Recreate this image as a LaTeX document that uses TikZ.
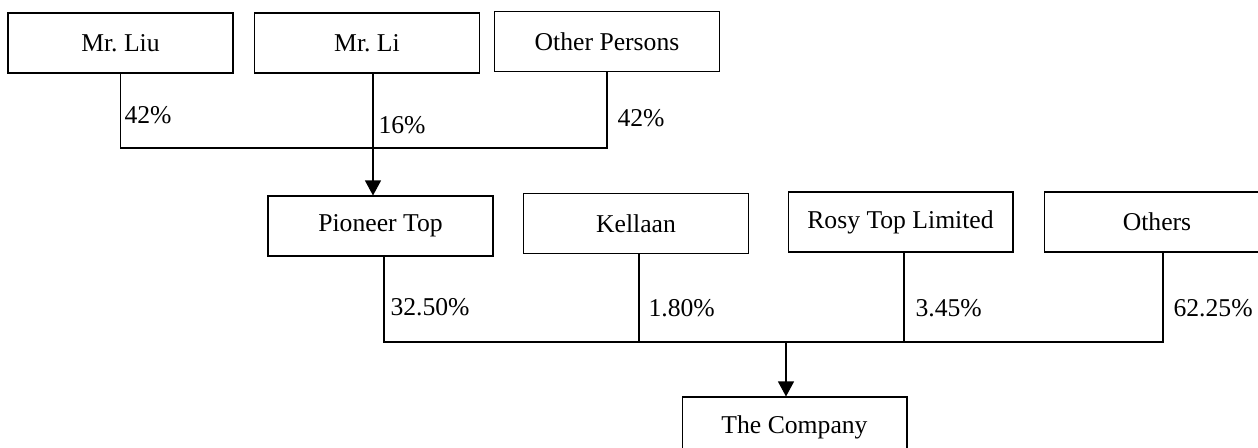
\documentclass[tikz,border=0pt]{standalone}
\usepackage{fontspec}
\setmainfont{Liberation Serif}
\usepackage{tikz}
\usetikzlibrary{arrows.meta,positioning,calc}
\frenchspacing

\begin{document}
\begin{tikzpicture}[x=0.02cm, y=-0.02cm, line width=0.6pt,
    box/.style={draw, rectangle, minimum width=4.5cm, minimum height=1.2cm, inner sep=0pt, font=\fontsize{14.6}{17}\selectfont},
    pct/.style={anchor=west, inner sep=0pt, font=\fontsize{14.6}{17}\selectfont},
    arr/.style={-{Triangle[length=0.3cm, width=0.32cm]}}]
    \clip (0,0) rectangle (1258,448);

    % shareholders of Pioneer Top
    \node[box] (liu) at (120.5,43) {Mr. Liu};
    \node[box] (li) at (367,43) {Mr. Li};
    \node[box] (other) at (607,41.5) {Other Persons};

    \node[box] (pioneer) at (380.5,226) {Pioneer Top};
    \node[box] (kellaan) at (636,223.5) {Kellaan};
    \node[box] (rosy) at (900.5,222) {Rosy Top Limited};
    \node[box] (others) at (1157,222) {Others};

    \node[box] (company) at (794.5,427) {The Company};

    \coordinate (topbus) at (373,148);
    \draw (liu.south) |- (topbus) -| (other.south);
    \draw (li.south -| topbus) -- (topbus);
    \draw[arr] (topbus) -- (topbus |- pioneer.north);

    \node[pct] (p1) at (124,115) {42\%};
    \node[pct] (p2) at (378,125) {16\%};
    \node[pct] (p3) at (617,118) {42\%};

    % shareholders of the Company
    \coordinate (d1) at (384,342);
    \coordinate (d2) at (639,342);
    \coordinate (d3) at (904,342);
    \coordinate (d4) at (1163,342);
    \coordinate (d0) at (786,342);
    \draw (pioneer.south -| d1) -- (d1) -- (d4) -- (others.south -| d4);
    \draw (kellaan.south -| d2) -- (d2);
    \draw (rosy.south -| d3) -- (d3);
    \draw[arr] (d0) -- (company.north -| d0);

    \node[pct] (q1) at (390,307) {32.50\%};
    \node[pct] (q2) at (648,308) {1.80\%};
    \node[pct] (q3) at (915,308) {3.45\%};
    \node[pct] (q4) at (1173,308) {62.25\%};
\end{tikzpicture}
\end{document}
